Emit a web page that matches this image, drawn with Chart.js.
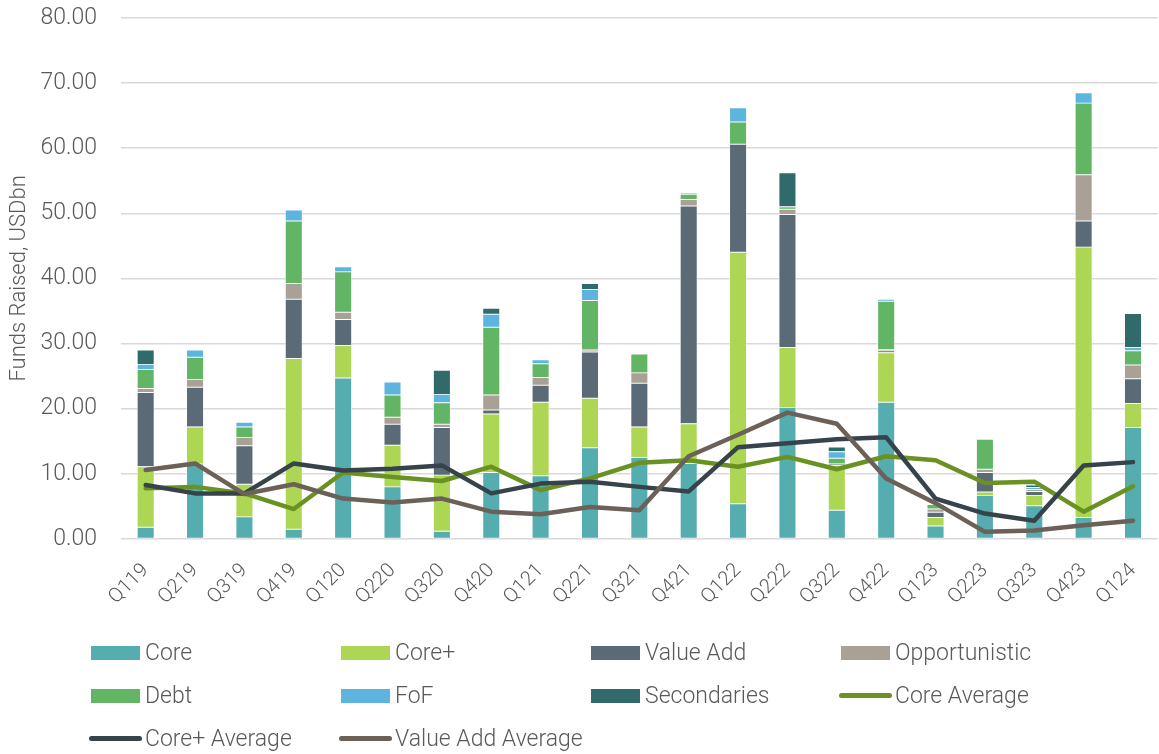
<!DOCTYPE html>
<html>
<head>
<meta charset="utf-8">
<title>Funds Raised by Strategy</title>
<script src="https://cdn.jsdelivr.net/npm/chart.js@4.4.1/dist/chart.umd.min.js"></script>
<style>
  html, body { margin: 0; padding: 0; background: #fff; overflow: hidden; }
  .wrap { position: relative; width: 1159px; height: 754px; overflow: hidden; }
  canvas { position: absolute; left: 0; top: -20px; }
  .legend {
    position: absolute; left: 91px; top: 631px;
    display: grid; grid-template-columns: repeat(4, 250px); grid-auto-rows: 43px;
    font-family: Roboto, sans-serif; font-weight: 300; font-size: 23px; color: #595959;
  }
  .legend .item { display: flex; align-items: center; white-space: nowrap; }
  .legend .box { width: 49px; height: 14px; margin-right: 5px; }
  .legend .line { width: 53px; height: 5px; border-radius: 3px; margin-left: -2px; margin-right: 3px; }
</style>
</head>
<body>
<div class="wrap">
  <canvas id="fundsChart" width="1170" height="774"></canvas>
  <div class="legend" id="legend"></div>
</div>
<script>
// quarters on the x axis
const quarters = ['Q119', 'Q219', 'Q319', 'Q419', 'Q120', 'Q220', 'Q320', 'Q420', 'Q121', 'Q221', 'Q321',
                  'Q421', 'Q122', 'Q222', 'Q322', 'Q422', 'Q123', 'Q223', 'Q323', 'Q423', 'Q124'];

// funds raised per strategy, USD bn
const core          = [1.8, 11.5, 3.4, 1.5, 24.7, 8.0, 1.2, 10.2, 9.7, 14.0, 12.5, 11.6, 5.4, 20.2, 4.4, 21.0, 2.0, 6.7, 5.1, 3.3, 17.1];
const corePlus      = [9.3, 5.7, 5.0, 26.2, 5.0, 6.4, 8.6, 9.0, 11.3, 7.6, 4.7, 6.1, 38.6, 9.2, 6.9, 7.6, 1.3, 0.5, 1.6, 41.5, 3.7];
const valueAdd      = [11.4, 6.1, 5.9, 9.1, 4.0, 3.2, 7.3, 0.6, 2.6, 7.1, 6.7, 33.4, 16.6, 20.4, 0.2, 0.3, 0.8, 3.0, 0.6, 4.0, 3.8];
const opportunistic = [0.6, 1.2, 1.3, 2.4, 1.1, 1.1, 0.5, 2.3, 1.2, 0.3, 1.6, 1.0, 0, 0.8, 0.1, 0.2, 0.5, 0.5, 0.3, 7.1, 2.1];
const debt          = [2.9, 3.4, 1.6, 9.6, 6.2, 3.4, 3.3, 10.4, 2.1, 7.6, 2.9, 0.8, 3.4, 0.2, 0.8, 7.4, 0.7, 4.6, 0, 11.0, 2.2];
const fof           = [0.8, 1.1, 0.7, 1.7, 0.8, 2.0, 1.3, 2.0, 0.6, 1.7, 0, 0.2, 2.2, 0.2, 1.0, 0.3, 0, 0, 0.3, 1.6, 0.5];
const secondaries   = [2.2, 0, 0, 0, 0, 0, 3.7, 0.9, 0, 0.9, 0, 0, 0, 5.2, 0.7, 0, 0, 0, 0.4, 0, 5.2];

// average fund size lines
const coreAverage     = [7.8, 8.0, 7.0, 4.6, 10.2, 9.5, 8.9, 11.1, 7.5, 9.3, 11.7, 12.1, 11.1, 12.6, 10.7, 12.7, 12.1, 8.6, 8.8, 4.2, 8.1];
const corePlusAverage = [8.3, 7.0, 7.0, 11.6, 10.5, 10.8, 11.3, 7.0, 8.5, 8.8, 8.0, 7.3, 14.1, 14.7, 15.3, 15.6, 6.2, 3.9, 2.8, 11.3, 11.8];
const valueAddAverage = [10.6, 11.6, 6.9, 8.4, 6.2, 5.6, 6.2, 4.2, 3.8, 4.9, 4.4, 12.7, 16.0, 19.4, 17.7, 9.3, 5.5, 1.1, 1.3, 2.1, 2.8];

// y axis range
const yMin = 0;
const yMax = 80;
const yStep = 10;

const textColor = '#595959';
const fontFamily = 'Roboto, sans-serif';

function barSet(label, data, color) {
    return {
        type: 'bar',
        label: label,
        data: data,
        backgroundColor: color,
        borderColor: 'rgba(255,255,255,0.7)',
        borderWidth: 0.8,
        borderSkipped: false,
        barThickness: 17,
        stack: 'funds',
        order: 4
    };
}

function lineSet(label, data, color, order) {
    return {
        type: 'line',
        label: label,
        data: data,
        borderColor: color,
        backgroundColor: color,
        borderWidth: 4.5,
        pointRadius: 0,
        tension: 0,
        borderJoinStyle: 'round',
        borderCapStyle: 'round',
        fill: false,
        stack: label, // keep lines out of the bar stack
        order: order
    };
}

const datasets = [
    barSet('Core', core, '#56adaf'),
    barSet('Core+', corePlus, '#acd653'),
    barSet('Value Add', valueAdd, '#5a6b77'),
    barSet('Opportunistic', opportunistic, '#a9a096'),
    barSet('Debt', debt, '#61b565'),
    barSet('FoF', fof, '#5db4de'),
    barSet('Secondaries', secondaries, '#316a6a'),
    lineSet('Core Average', coreAverage, '#6a9222', 3),
    lineSet('Core+ Average', corePlusAverage, '#37434b', 2),
    lineSet('Value Add Average', valueAddAverage, '#6b6158', 1)
];

const ctx = document.getElementById('fundsChart').getContext('2d');
new Chart(ctx, {
    data: { labels: quarters, datasets: datasets },
    options: {
        responsive: false,
        animation: false,
        layout: { padding: { top: 0, right: 1, bottom: 135, left: 0 } },
        plugins: {
            legend: { display: false },
            tooltip: { enabled: false }
        },
        scales: {
            x: {
                stacked: true,
                grid: { display: false, drawTicks: false },
                border: { display: false },
                ticks: {
                    color: textColor,
                    font: { family: fontFamily, weight: '300', size: 20 },
                    minRotation: 45,
                    maxRotation: 45,
                    padding: 20
                },
                afterFit: (scale) => { scale.height = 80; }
            },
            y: {
                stacked: true,
                min: yMin,
                max: yMax,
                grid: { color: '#d9d9d9', lineWidth: 1.5, drawTicks: false },
                border: { display: false },
                ticks: {
                    stepSize: yStep,
                    color: textColor,
                    padding: 24,
                    font: { family: fontFamily, weight: '300', size: 23 },
                    callback: (v) => Number(v).toFixed(2)
                },
                title: {
                    display: true,
                    text: 'Funds Raised, USDbn',
                    color: textColor,
                    font: { family: fontFamily, weight: '300', size: 22 },
                    padding: { top: 6, bottom: 6 }
                },
                afterFit: (scale) => { scale.width = 121; }
            }
        }
    }
});

// legend in four fixed columns
const legend = document.getElementById('legend');
datasets.forEach(ds => {
    const item = document.createElement('div');
    item.className = 'item';
    const mark = document.createElement('span');
    mark.className = ds.type === 'line' ? 'line' : 'box';
    mark.style.background = ds.type === 'line' ? ds.borderColor : ds.backgroundColor;
    item.appendChild(mark);
    item.appendChild(document.createTextNode(ds.label));
    legend.appendChild(item);
});
</script>
</body>
</html>
